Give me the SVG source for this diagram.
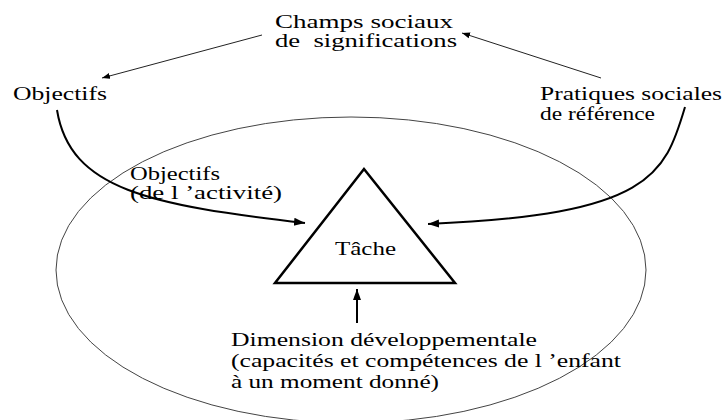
<svg xmlns="http://www.w3.org/2000/svg" width="723" height="420" viewBox="0 0 723 420">
<defs>
<style>
.thin{fill:none;stroke:#222;stroke-width:1}
.thick{fill:none;stroke:#000;stroke-width:2}
</style>
<marker id="ah" markerWidth="12" markerHeight="10" refX="11" refY="5" orient="auto" markerUnits="userSpaceOnUse">
<path d="M0,1 L11,5 L0,9 Z" fill="#000"/>
</marker>
<marker id="as" markerWidth="9" markerHeight="7" refX="8" refY="3.5" orient="auto" markerUnits="userSpaceOnUse">
<path d="M0,0.5 L8,3.5 L0,6.5 Z" fill="#000"/>
</marker>
</defs>
<rect width="723" height="420" fill="#fff"/>
<g id="ellipse">
<ellipse cx="351" cy="270" rx="295" ry="153" fill="none" stroke="#444" stroke-width="1"/>
</g>
<g id="connectors">
<line class="thin" x1="262" y1="35" x2="102" y2="78" marker-end="url(#as)"/>
<line class="thin" x1="601" y1="78" x2="462" y2="33" marker-end="url(#as)"/>
<path class="thick" d="M57,110 C70,190 150,205 305,223" marker-end="url(#ah)"/>
<path class="thick" d="M685,107 C665,175 650,215 428,224" marker-end="url(#ah)"/>
<line class="thick" x1="357" y1="323" x2="357" y2="289" marker-end="url(#ah)"/>
</g>
<g font-family="Liberation Serif" font-size="19" fill="#000">
<g id="champs">
<text x="275" y="28" textLength="178" lengthAdjust="spacingAndGlyphs">Champs sociaux</text>
<text x="275" y="47" textLength="182" lengthAdjust="spacingAndGlyphs" xml:space="preserve">de  significations</text>
</g>
<g id="objectifs">
<text x="13" y="100" textLength="94" lengthAdjust="spacingAndGlyphs">Objectifs</text>
</g>
<g id="pratiques">
<text x="540" y="100" textLength="182" lengthAdjust="spacingAndGlyphs">Pratiques sociales</text>
<text x="540" y="120" textLength="115" lengthAdjust="spacingAndGlyphs">de référence</text>
</g>
<g id="objectifs-activite">
<text x="130" y="180" textLength="90" lengthAdjust="spacingAndGlyphs">Objectifs</text>
<text x="130" y="199" textLength="152" lengthAdjust="spacingAndGlyphs">(de l ’activité)</text>
</g>
<g id="tache">
<polygon points="364,169 455,283 275,283" fill="none" stroke="#000" stroke-width="2.5"/>
<text x="335" y="255" textLength="61" lengthAdjust="spacingAndGlyphs">Tâche</text>
</g>
<g id="dimension">
<text x="231" y="346" textLength="306" lengthAdjust="spacingAndGlyphs">Dimension développementale</text>
<text x="231" y="367" textLength="390" lengthAdjust="spacingAndGlyphs">(capacités et compétences de l ’enfant</text>
<text x="231" y="388" textLength="208" lengthAdjust="spacingAndGlyphs">à un moment donné)</text>
</g>
</g>
</svg>
